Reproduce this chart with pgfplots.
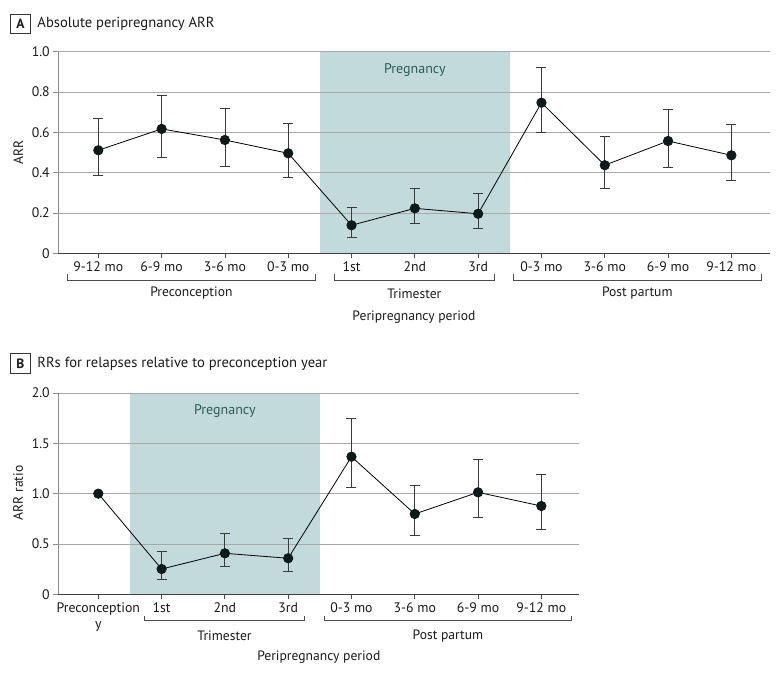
\documentclass[border=0pt]{standalone}
\usepackage{pgfplots}
\pgfplotsset{compat=1.18}
\usepackage{pgfplotstable}
\usepackage{fontspec}
\setmainfont{PT Sans}
\definecolor{shade}{HTML}{C2DADB}
\definecolor{preg}{HTML}{2B5C5C}
\definecolor{gridc}{HTML}{A8A8A8}
\definecolor{txt}{HTML}{1A1A1A}
\definecolor{mk}{HTML}{0C1A1A}
\definecolor{ebar}{HTML}{3A3A3A}

\pgfplotstableread{
x y ep em
0 0.511 0.160 0.126
1 0.617 0.167 0.139
2 0.562 0.159 0.129
3 0.496 0.149 0.119
4 0.139 0.091 0.060
5 0.223 0.098 0.074
6 0.196 0.102 0.072
7 0.747 0.176 0.149
8 0.437 0.141 0.115
9 0.557 0.159 0.130
10 0.486 0.152 0.124
}\dataA

\pgfplotstableread{
x y ep em
1 0.251 0.176 0.102
2 0.407 0.195 0.129
3 0.358 0.198 0.127
4 1.367 0.381 0.301
5 0.798 0.285 0.212
6 1.013 0.331 0.248
7 0.877 0.311 0.228
}\dataBerr

\pgfplotstableread{
x y
0 1.000
1 0.251
2 0.407
3 0.358
4 1.367
5 0.798
6 1.013
7 0.877
}\dataB

\pgfplotsset{
  mystyle/.style={
    set layers,
    scale only axis,
    anchor=south west,
    axis x line*=bottom, axis y line*=left,
    x axis line style={-, draw=black!75, line width=0.9pt},
    y axis line style={-, draw=black!45, line width=0.8pt},
    x tick style={draw=black!70, line width=0.8pt},
    y tick style={draw=black!45, line width=0.8pt},
    tick align=outside, major tick length=5pt,
    ymajorgrids, grid style={draw=gridc, line width=0.8pt},
    tick label style={font=\fontsize{13.8}{16}\selectfont, text=txt},
    xticklabel style={anchor=base, yshift=-13pt},
    clip=false,
  },
  ebars/.style={
    draw=none, mark=none, forget plot,
    error bars/.cd, y dir=both, y explicit,
    error bar style={draw=ebar, line width=0.8pt},
    error mark options={rotate=90, mark size=5pt, draw=ebar, line width=0.8pt},
  },
  mainline/.style={
    draw=black, line width=0.8pt, mark=*, mark size=4.7pt,
    mark options={fill=mk, draw=mk},
  },
}

\begin{document}
\begin{tikzpicture}

% ---------------- Panel A ----------------
\begin{axis}[mystyle,
  at={(58.3pt,422.7pt)}, width=711.7pt, height=201.6pt,
  xmin=-0.632, xmax=10.61, ymin=0, ymax=1.0,
  ytick={0,0.2,0.4,0.6,0.8,1.0},
  yticklabels={0,0.2,0.4,0.6,0.8,1.0},
  xtick={0,1,2,3,4,5,6,7,8,9,10},
  xticklabels={9-12 mo,6-9 mo,3-6 mo,0-3 mo,1st,2nd,3rd,0-3 mo,3-6 mo,6-9 mo,9-12 mo},
]
\addplot[fill=shade, draw=none, on layer=axis background, forget plot]
  coordinates {(3.5,0) (3.5,1) (6.5,1) (6.5,0)};
\addplot[ebars] table[x=x, y=y, y error plus=ep, y error minus=em] {\dataA};
\addplot[mainline] table[x=x, y=y] {\dataA};
\node[text=preg, font=\fontsize{14}{16}\selectfont] at (axis cs:5,0.911) {Pregnancy};
\end{axis}

% ---------------- Panel B ----------------
\begin{axis}[mystyle,
  at={(58.3pt,81.7pt)}, width=521pt, height=201.3pt,
  xmin=-0.632, xmax=7.6, ymin=0, ymax=2.0,
  ytick={0,0.5,1.0,1.5,2.0},
  yticklabels={0,0.5,1.0,1.5,2.0},
  xtick={0,1,2,3,4,5,6,7},
  xticklabels={{\begin{tabular}[t]{@{}c@{}}Preconception\\y\end{tabular}},1st,2nd,3rd,0-3 mo,3-6 mo,6-9 mo,9-12 mo},
]
\addplot[fill=shade, draw=none, on layer=axis background, forget plot]
  coordinates {(0.5,0) (0.5,2) (3.5,2) (3.5,0)};
\addplot[ebars] table[x=x, y=y, y error plus=ep, y error minus=em] {\dataBerr};
\addplot[mainline] table[x=x, y=y] {\dataB};
\node[text=preg, font=\fontsize{14}{16}\selectfont] at (axis cs:2,1.824) {Pregnancy};
\end{axis}

% ---------------- Annotations ----------------
\begin{scope}[x=1pt, y=1pt, draw=black!70, line width=0.8pt]
% Panel A brackets
\draw (67.7,401.7) -- (67.7,396) -- (315,396) -- (315,401.7);
\draw (334.3,401.7) -- (334.3,396) -- (494.3,396) -- (494.3,401.7);
\draw (513.7,401.7) -- (513.7,396) -- (761,396) -- (761,401.7);
% Panel B brackets
\draw (144.7,60) -- (144.7,56) -- (304.3,56) -- (304.3,60);
\draw (324,60) -- (324,56) -- (571.7,56) -- (571.7,60);
\end{scope}

\begin{scope}[x=1pt, y=1pt, every node/.style={text=txt, font=\fontsize{13.6}{16}\selectfont}]
\node at (191.4,382.7) {Preconception};
\node at (414.3,382.7) {Trimester};
\node at (637.3,382.7) {Post partum};
\node at (414,359.3) {Peripregnancy period};
\node at (224.5,40.3) {Trimester};
\node at (447.9,40.3) {Post partum};
\node at (318.8,18.7) {Peripregnancy period};
\node[rotate=90] at (18.3,523.3) {ARR};
\node[rotate=90] at (18,183) {ARR ratio};
% Titles
\node[draw=black!80, line width=0.8pt, minimum width=20.7pt, minimum height=19pt, inner sep=0pt, font=\bfseries\fontsize{13.5}{15}\selectfont] at (20.35,652.5) {A};
\node[anchor=west, font=\fontsize{14.6}{17}\selectfont, inner sep=0pt] at (37.3,652) {Absolute peripregnancy ARR};
\node[draw=black!80, line width=0.8pt, minimum width=20.7pt, minimum height=20pt, inner sep=0pt, font=\bfseries\fontsize{13.5}{15}\selectfont] at (20.35,312.7) {B};
\node[anchor=west, font=\fontsize{14.6}{17}\selectfont, inner sep=0pt] at (37.3,312) {RRs for relapses relative to preconception year};
\end{scope}

\pgfresetboundingbox
\useasboundingbox (0pt,0pt) rectangle (780pt,676pt);
\end{tikzpicture}
\end{document}
